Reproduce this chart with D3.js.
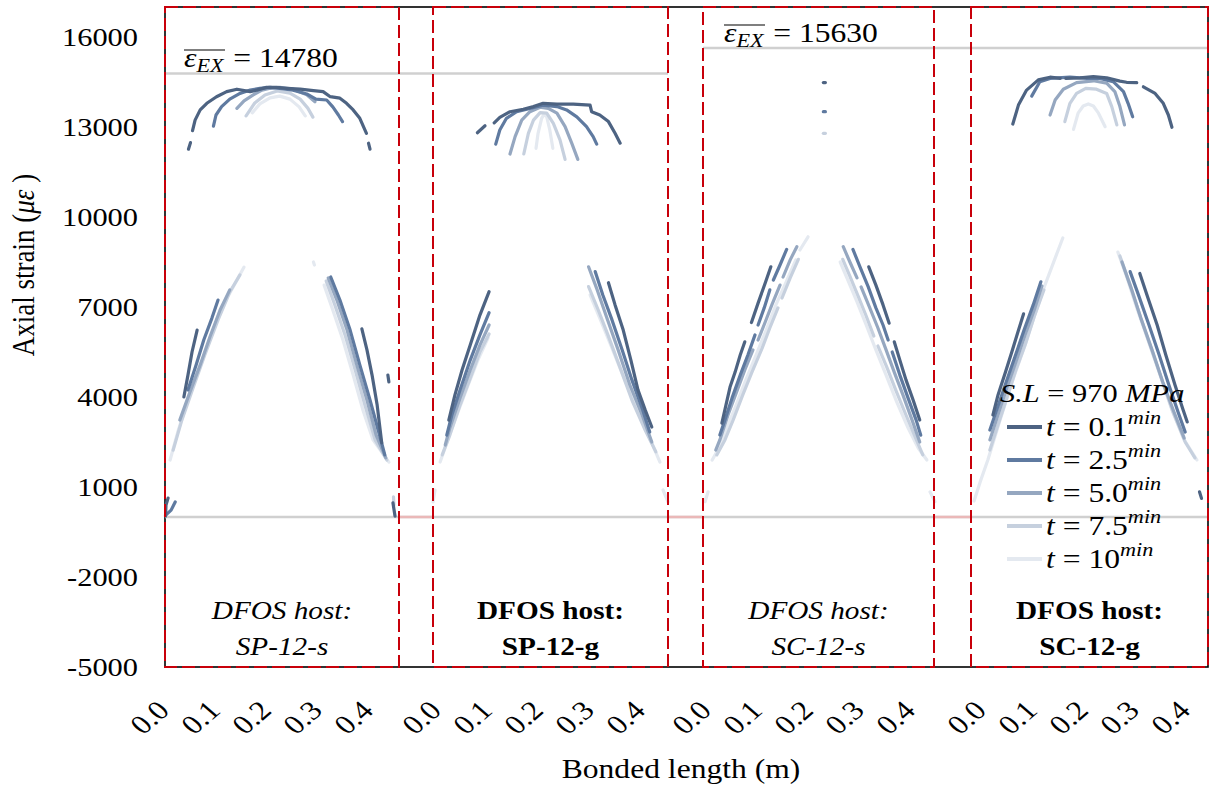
<!DOCTYPE html>
<html>
<head>
<meta charset="utf-8">
<script src="https://cdn.jsdelivr.net/npm/d3@7"></script>
<style>
  body { margin: 0; background: #fff; }
  svg { display: block; }
  text { font-family: "Liberation Serif", "Times New Roman", serif; fill: #000; }
</style>
</head>
<body>
<svg id="chart" width="1211" height="789"></svg>
<script>
// ---------------- data ----------------
const specimens = ["SP-12-s", "SP-12-g", "SC-12-s", "SC-12-g"];
const hostBold = [false, true, false, true];
const timeLabels = ["0.1", "2.5", "5.0", "7.5", "10"];
const yTicks = [-5000, -2000, 1000, 4000, 7000, 10000, 13000, 16000];
const xTicks = [0, 0.1, 0.2, 0.3, 0.4];
const refStrain = [14780, 15630];   // mean extensometer strain, SP pair and SC pair
const stressLevel = 970;            // MPa

// strain profiles [bonded length (m), strain (με)], one list of segments per time step
const profileSP12s = [
  [ // t = 0.1 min
    [[0.001,30],[0.002,400],[0.006,630]],
    [[0.037,4000],[0.045,4730],[0.053,5500],[0.063,6230]],
    [[0.046,12260],[0.050,12480]],
    [[0.054,12880],[0.059,13230],[0.069,13570],[0.082,13790],[0.101,14010],[0.121,14180],[0.141,14260],[0.167,14180],[0.180,14230],[0.199,14320],[0.219,14320],[0.239,14290],[0.265,14260],[0.291,14210],[0.310,14180],[0.324,14010],[0.343,13960],[0.356,13790],[0.369,13570],[0.382,13290],[0.395,12790]],
    [[0.399,12460],[0.402,12260]],
    [[0.386,6270],[0.396,5570],[0.406,4730],[0.416,3730],[0.425,2470]],
    [[0.437,4730],[0.439,4500]],
    [[0.447,470],[0.451,30]]
  ],
  [ // t = 2.5 min
    [[0.002,70],[0.012,230],[0.020,500]],
    [[0.045,4230],[0.061,5070],[0.076,5900],[0.092,6630],[0.104,7230]],
    [[0.095,13030],[0.100,13400],[0.111,13680],[0.127,13930],[0.147,14120],[0.167,14230],[0.186,14290],[0.206,14320],[0.225,14290],[0.251,14230],[0.278,14100],[0.296,13930],[0.317,13900],[0.329,13670],[0.340,13400],[0.348,13180]],
    [[0.325,8000],[0.343,7230],[0.363,6230],[0.382,5070],[0.402,3900],[0.418,2900],[0.431,2070]]
  ],
  [ // t = 5.0 min
    [[0.029,3230],[0.049,4170],[0.069,5070],[0.088,6000],[0.108,6900],[0.127,7570]],
    [[0.141,13620],[0.155,13870],[0.173,14070],[0.190,14230],[0.206,14290],[0.225,14320],[0.252,14260],[0.278,14070],[0.294,13840]],
    [[0.320,7970],[0.337,7230],[0.357,6230],[0.376,5070],[0.396,3900],[0.414,2730],[0.433,1970]]
  ],
  [ // t = 7.5 min
    [[0.016,2230],[0.033,3230],[0.055,4300],[0.078,5400],[0.104,6570],[0.127,7500],[0.147,8070]],
    [[0.159,13370],[0.176,13800],[0.196,14070],[0.220,14200],[0.245,14130],[0.265,13930],[0.280,13630],[0.290,13330]],
    [[0.316,7870],[0.333,7070],[0.353,6070],[0.373,4900],[0.392,3730],[0.412,2570],[0.435,1900]],
    [[0.448,670],[0.449,400]]
  ],
  [ // t = 10 min
    [[0.010,1900],[0.025,2830],[0.045,3900],[0.069,5030],[0.094,6230],[0.124,7370],[0.155,8330]],
    [[0.171,13470],[0.186,13770],[0.206,13970],[0.225,14030],[0.245,13930],[0.263,13670],[0.275,13370]],
    [[0.291,8500],[0.293,8400]],
    [[0.312,7730],[0.329,6900],[0.349,5900],[0.369,4730],[0.388,3570],[0.408,2570],[0.439,1830]]
  ]
];

const profileSP12g = [
  [
    [[0.031,3230],[0.043,4070],[0.057,4900],[0.073,5730],[0.092,6730],[0.110,7510]],
    [[0.087,12810],[0.102,13040]],
    [[0.120,13140],[0.131,13320],[0.151,13510],[0.177,13590],[0.197,13680],[0.216,13790],[0.243,13760],[0.275,13760],[0.308,13730],[0.311,13510],[0.327,13400],[0.344,13180],[0.357,12790],[0.367,12460]],
    [[0.344,7810],[0.357,7070],[0.373,6230],[0.388,5230],[0.402,4230],[0.416,3570],[0.429,3000]]
  ],
  [
    [[0.027,2730],[0.037,3400],[0.053,4230],[0.073,5230],[0.092,6070],[0.110,6810]],
    [[0.123,12430],[0.131,12900],[0.144,13290],[0.164,13510],[0.190,13620],[0.216,13730],[0.243,13680],[0.262,13570],[0.282,13340],[0.301,13010],[0.314,12680],[0.321,12430]],
    [[0.318,8180],[0.333,7400],[0.351,6570],[0.371,5570],[0.390,4570],[0.410,3630],[0.425,2830]]
  ],
  [
    [[0.024,2400],[0.033,2970],[0.053,3970],[0.073,4900],[0.092,5730],[0.110,6400]],
    [[0.151,12100],[0.161,12680],[0.174,13230],[0.190,13510],[0.210,13660],[0.226,13620],[0.243,13460],[0.259,13010],[0.272,12460],[0.284,11920]],
    [[0.305,8340],[0.322,7570],[0.341,6630],[0.363,5570],[0.386,4400],[0.410,3400],[0.429,2500]]
  ],
  [
    [[0.018,2070],[0.033,2730],[0.053,3730],[0.073,4630],[0.092,5500],[0.110,6100]],
    [[0.178,12100],[0.187,12790],[0.197,13230],[0.210,13480],[0.223,13460],[0.236,13120],[0.249,12570],[0.259,11920]],
    [[0.305,7680],[0.324,6900],[0.343,6070],[0.367,4970],[0.390,3900],[0.416,2900],[0.437,2170]]
  ],
  [
    [[0.000,500],[0.004,900]],
    [[0.014,1830],[0.029,2570],[0.049,3500],[0.069,4400],[0.088,5230],[0.108,5970]],
    [[0.202,12290],[0.206,12790],[0.213,13290],[0.218,13430],[0.223,13340],[0.229,12900],[0.235,12290]],
    [[0.308,7400],[0.327,6630],[0.351,5630],[0.376,4570],[0.402,3500],[0.425,2630],[0.445,1830]],
    [[0.451,900],[0.461,500]]
  ]
];

const profileSC12s = [
  [
    [[0.236,14480],[0.240,14480]],
    [[0.133,8340],[0.122,7800],[0.108,7130],[0.095,6480]],
    [[0.082,5840],[0.073,5400],[0.063,4830],[0.053,4330],[0.045,3730],[0.037,3130]],
    [[0.325,8340],[0.339,7730],[0.353,7070],[0.365,6460]],
    [[0.375,5840],[0.386,5230],[0.398,4570],[0.412,3900],[0.425,3230]]
  ],
  [
    [[0.236,13510],[0.240,13510]],
    [[0.164,8920],[0.151,8400],[0.138,7900]],
    [[0.131,7570],[0.120,6970],[0.108,6400]],
    [[0.102,6070],[0.088,5400],[0.073,4730],[0.057,3970],[0.043,3230],[0.033,2730]],
    [[0.294,8920],[0.308,8330],[0.324,7670],[0.339,6970],[0.353,6400],[0.363,5900]],
    [[0.371,5500],[0.386,4730],[0.402,3970],[0.418,3230],[0.427,2730]]
  ],
  [
    [[0.184,9010],[0.171,8570],[0.157,8000]],
    [[0.151,7730],[0.135,7070],[0.122,6500],[0.108,5900]],
    [[0.098,5570],[0.082,4900],[0.065,4130],[0.049,3400],[0.033,2570],[0.025,2230]],
    [[0.275,9010],[0.288,8500],[0.302,7970]],
    [[0.310,7670],[0.327,6970],[0.343,6300],[0.359,5570],[0.375,4830],[0.392,4070],[0.410,3230],[0.425,2500]]
  ],
  [
    [[0.236,12790],[0.240,12790]],
    [[0.187,8590],[0.171,7970],[0.155,7300]],
    [[0.147,6970],[0.131,6300],[0.116,5630],[0.096,4830],[0.078,4070],[0.059,3230],[0.043,2570],[0.027,2070]],
    [[0.274,8590],[0.288,8030],[0.304,7370],[0.320,6700],[0.335,6030]],
    [[0.343,5700],[0.361,4970],[0.378,4230],[0.398,3400],[0.416,2670],[0.431,2070]]
  ],
  [
    [[0.206,9340],[0.190,8900]],
    [[0.182,8570],[0.163,7830],[0.143,7070],[0.124,6230],[0.104,5400],[0.084,4570],[0.065,3730],[0.045,2900],[0.029,2230],[0.018,1900]],
    [[0.010,840],[0.004,510]],
    [[0.269,8500],[0.284,7900],[0.302,7170],[0.320,6400],[0.339,5570],[0.359,4730],[0.380,3830],[0.402,2970],[0.422,2300],[0.439,1900]],
    [[0.445,840],[0.455,510]]
  ]
];

const profileSC12g = [
  [
    [[0.082,13100],[0.093,13730],[0.109,14230],[0.132,14570],[0.155,14660],[0.175,14620]],
    [[0.186,14620],[0.214,14640],[0.240,14680],[0.266,14640],[0.292,14530],[0.305,14490],[0.325,14480]],
    [[0.338,14340],[0.361,14120],[0.377,13790],[0.387,13400],[0.394,12990]],
    [[0.103,6770],[0.092,6170],[0.080,5500],[0.067,4800],[0.053,4070],[0.043,3400]],
    [[0.331,8120],[0.347,7300],[0.365,6400],[0.382,5400],[0.400,4400],[0.416,3570],[0.424,3170]],
    [[0.448,840],[0.452,620]]
  ],
  [
    [[0.119,14030],[0.135,14510],[0.155,14620],[0.194,14660],[0.227,14620],[0.253,14620],[0.279,14510],[0.299,14180],[0.308,13790],[0.317,13340]],
    [[0.137,7840],[0.122,7070],[0.104,6230],[0.086,5330],[0.067,4400],[0.049,3500],[0.037,2900]],
    [[0.312,8180],[0.329,7370],[0.349,6400],[0.369,5400],[0.388,4400],[0.406,3500],[0.420,2830]]
  ],
  [
    [[0.155,13400],[0.165,13900],[0.181,14260],[0.207,14480],[0.240,14540],[0.266,14460],[0.282,14180],[0.292,13680],[0.301,13070]],
    [[0.139,7700],[0.124,6900],[0.106,6070],[0.088,5170],[0.069,4230],[0.051,3300],[0.037,2570]],
    [[0.296,8500],[0.314,7630],[0.333,6630],[0.355,5570],[0.376,4500],[0.398,3500],[0.418,2630]]
  ],
  [
    [[0.184,13180],[0.194,13790],[0.207,14120],[0.225,14290],[0.246,14260],[0.266,14120],[0.276,13680],[0.286,13070]],
    [[0.143,7570],[0.125,6730],[0.108,5830],[0.088,4900],[0.069,3900],[0.051,2970],[0.037,2230]],
    [[0.292,8700],[0.310,7830],[0.329,6830],[0.351,5730],[0.373,4630],[0.396,3500],[0.420,2500],[0.439,1970]]
  ],
  [
    [[0.201,12920],[0.210,13460],[0.220,13700],[0.230,13770],[0.240,13700],[0.250,13460],[0.263,13010]],
    [[0.180,9300],[0.165,8630],[0.145,7730],[0.125,6730],[0.106,5730],[0.082,4570],[0.057,3230],[0.033,1900],[0.018,1170],[0.006,530]],
    [[0.288,8830],[0.306,7970],[0.325,6970],[0.347,5900],[0.371,4730],[0.394,3570],[0.418,2570],[0.443,1900]]
  ]
];

const profiles = [profileSP12s, profileSP12g, profileSC12s, profileSC12g];

// ---------------- layout & style ----------------
const plot = { left: 165, right: 1208, top: 7, bottom: 667 };
const panelLeft  = [165, 433, 703, 971];
const panelRight = [399, 668, 934, 1208];
const tickShift  = [6, 10, 10, 17];               // label offset from tick, per panel
const xSpan = 0.46, pxPerMetre = 510;
const SX = 1.17;                                  // horizontal text stretch
const seriesColor = ["#4d6382", "#5f7aa0", "#95a7c0", "#c6d0de", "#e4e9f0"];
const red = "#c8000a", refGrey = "#d0d0d0";

const svg = d3.select("#chart");
const y = d3.scaleLinear().domain([-5000, 17000]).range([plot.bottom, plot.top]);
const xScales = panelLeft.map(l => d3.scaleLinear().domain([0, xSpan]).range([l, l + xSpan * pxPerMetre]));

function tx(x, yy, rot) {
  return `translate(${x},${yy}) scale(${SX},1)` + (rot ? ` rotate(${rot})` : "");
}

// plot-area frame
svg.append("rect")
  .attr("x", plot.left).attr("y", plot.top)
  .attr("width", plot.right - plot.left).attr("height", plot.bottom - plot.top)
  .attr("fill", "none").attr("stroke", "#000").attr("stroke-width", 1.6);

// zero line
svg.append("line")
  .attr("x1", plot.left).attr("x2", plot.right)
  .attr("y1", y(0)).attr("y2", y(0))
  .attr("stroke", refGrey).attr("stroke-width", 2.5);
for (let i = 0; i < 3; i++) {
  svg.append("line")
    .attr("x1", panelRight[i]).attr("x2", panelLeft[i + 1])
    .attr("y1", y(0)).attr("y2", y(0))
    .attr("stroke", "#eab8b8").attr("stroke-width", 2.5);
}

// mean extensometer strain lines
const refSpans = [[plot.left, panelRight[1]], [panelLeft[2], plot.right]];
refStrain.forEach((v, i) => {
  svg.append("line")
    .attr("x1", refSpans[i][0]).attr("x2", refSpans[i][1])
    .attr("y1", y(v)).attr("y2", y(v))
    .attr("stroke", refGrey).attr("stroke-width", 2.5);
});

// strain profiles
const curves = svg.append("g")
  .attr("fill", "none").attr("stroke-width", 3.2)
  .attr("stroke-linecap", "round").attr("stroke-linejoin", "round");
profiles.forEach((prof, p) => {
  const line = d3.line().x(d => xScales[p](d[0])).y(d => y(d[1]));
  for (let s = prof.length - 1; s >= 0; s--) {
    prof[s].forEach(seg => {
      curves.append("path").attr("d", line(seg)).attr("stroke", seriesColor[s]);
    });
  }
});

// panel outlines (red dashed)
panelLeft.forEach((l, i) => {
  svg.append("rect")
    .attr("x", l).attr("y", plot.top)
    .attr("width", panelRight[i] - l).attr("height", plot.bottom - plot.top)
    .attr("fill", "none").attr("stroke", red).attr("stroke-width", 2)
    .attr("stroke-dasharray", "13,5");
});

// y tick labels
yTicks.forEach(v => {
  svg.append("text").attr("transform", tx(138, y(v) + 9))
    .attr("text-anchor", "end").attr("font-size", 26).text(v);
});

// x tick labels, rotated
xScales.forEach((xs, p) => {
  xTicks.forEach(t => {
    svg.append("text").attr("transform", tx(xs(t) + tickShift[p], 712, -45))
      .attr("text-anchor", "end").attr("font-size", 27).text(d3.format(".1f")(t));
  });
});

// axis titles
svg.append("text").attr("transform", tx(681, 778))
  .attr("text-anchor", "middle").attr("font-size", 27).text("Bonded length (m)");
const yt = svg.append("text").attr("transform", tx(34, 265, -90))
  .attr("text-anchor", "middle").attr("font-size", 27);
yt.append("tspan").text("Axial strain (");
yt.append("tspan").attr("font-style", "italic").text("με");
yt.append("tspan").text(" )");

// specimen captions
panelLeft.forEach((l, i) => {
  const cx = (l + panelRight[i]) / 2;
  const style = hostBold[i] ? { w: "bold", s: "normal" } : { w: "normal", s: "italic" };
  svg.append("text").attr("transform", tx(cx, 619))
    .attr("text-anchor", "middle").attr("font-size", 25)
    .attr("font-weight", style.w).attr("font-style", style.s).text("DFOS host:");
  svg.append("text").attr("transform", tx(cx, 655))
    .attr("text-anchor", "middle").attr("font-size", 25)
    .attr("font-weight", style.w).attr("font-style", style.s).text(specimens[i]);
});

// mean strain annotations
const annoPos = [[184, 67], [724, 42]];
refStrain.forEach((v, i) => {
  const g = svg.append("g").attr("transform", tx(annoPos[i][0], annoPos[i][1]));
  const sym = g.append("text").attr("font-size", 27).attr("font-style", "italic");
  sym.append("tspan").text("ε");
  sym.append("tspan").attr("font-size", 19).attr("dy", 5).text("EX");
  const bb = sym.node().getBBox();
  g.append("line").attr("x1", bb.x).attr("x2", bb.x + bb.width)
    .attr("y1", -17).attr("y2", -17).attr("stroke", "#000").attr("stroke-width", 1.2);
  g.append("text").attr("x", bb.x + bb.width + 7).attr("font-size", 27).text("= " + v);
});

// legend
const lg = svg.append("g");
const hdr = lg.append("text").attr("transform", tx(1000, 402)).attr("font-size", 26);
hdr.append("tspan").attr("font-style", "italic").text("S.L");
hdr.append("tspan").text(" = " + stressLevel + " ");
hdr.append("tspan").attr("font-style", "italic").text("MPa");
timeLabels.forEach((t, i) => {
  const ly = 427 + i * 33;
  lg.append("line").attr("x1", 1007).attr("x2", 1042).attr("y1", ly).attr("y2", ly)
    .attr("stroke", seriesColor[i]).attr("stroke-width", 4);
  const te = lg.append("text").attr("transform", tx(1046, ly + 9)).attr("font-size", 27);
  te.append("tspan").attr("font-style", "italic").text("t");
  te.append("tspan").text(" = " + t);
  te.append("tspan").attr("font-style", "italic").attr("font-size", 19).attr("dy", -12).text("min");
});
</script>
</body>
</html>
